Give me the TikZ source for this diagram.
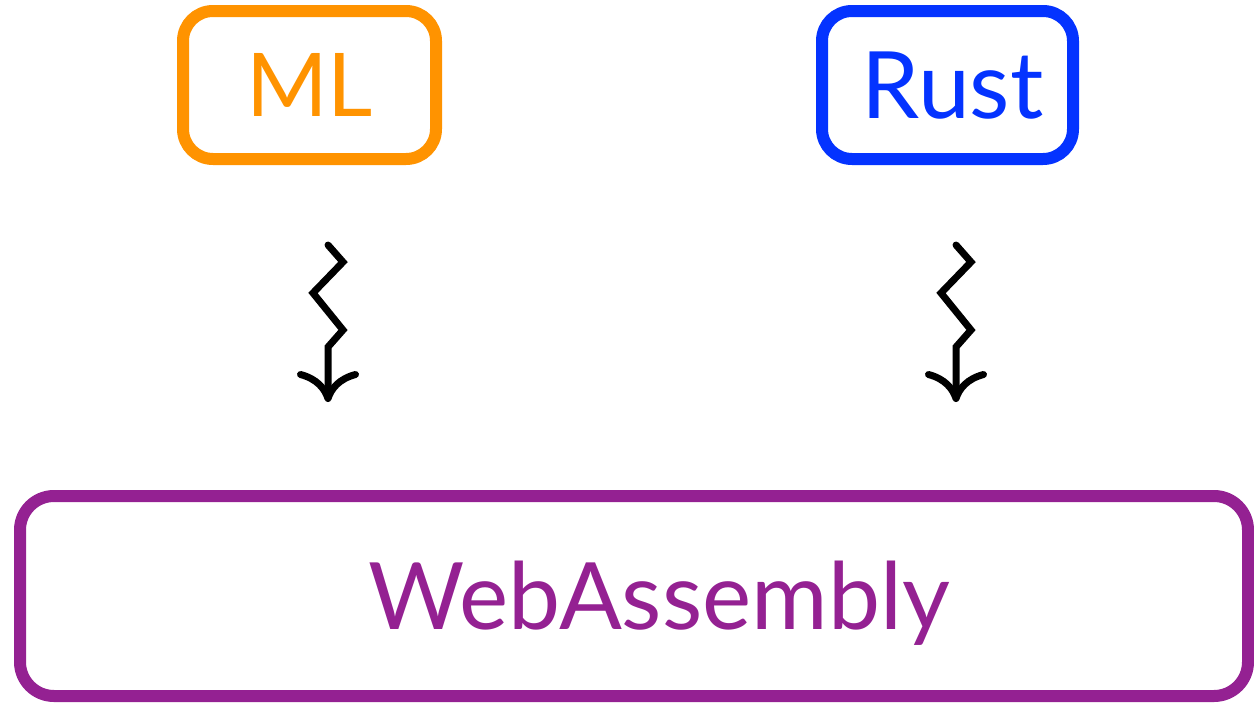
\documentclass[tikz,border=0pt]{standalone}
\usepackage{fontspec}
\setmainfont{Lato}
\usetikzlibrary{arrows.meta}
\definecolor{mlorange}{HTML}{FF9300}
\definecolor{rustblue}{HTML}{0433FF}
\definecolor{wasmpurple}{HTML}{942192}
\tikzset{
  langbox/.style={draw=#1, text=#1, line width=12pt, rounded corners=30pt,
    inner sep=0pt, text depth=0pt},
  labelsize/.style={font=\fontsize{#1}{#1}\selectfont, text height=0.716*#1 pt},
  compiles/.style={line width=7pt, line join=miter, line cap=round,
    -{Computer Modern Rightarrow[length=31pt,width=62pt]}}
}
\begin{document}
\begin{tikzpicture}[x=1pt,y=-1pt]
  \useasboundingbox (0,0) rectangle (1254,704);
  % source languages
  \node[langbox=mlorange, labelsize=88, minimum width=253pt, minimum height=148pt] (ml) at (309.5,85) {ML};
  \node[langbox=rustblue, labelsize=93, minimum width=251pt, minimum height=148pt,
        text width=251pt, align=center] (rust) at (947.5,85) {\hspace*{10pt}Rust};
  % target
  \node[langbox=wasmpurple, labelsize=93, rounded corners=34pt, minimum width=1228pt,
        minimum height=200pt, text width=1228pt, align=center] (wasm) at (634,596)
        {\hspace*{50pt}WebAssembly};
  % compilation arrows
  \coordinate (s1) at (328,245);
  \coordinate (e1) at (328,402);
  \coordinate (s2) at (956,245);
  \coordinate (e2) at (956,402);
  \draw[compiles] (s1) -- ++(15,17) -- ++(-30,31) -- ++(30,37) -- ++(-15,17) -- (e1);
  \draw[compiles] (s2) -- ++(15,17) -- ++(-30,31) -- ++(30,37) -- ++(-15,17) -- (e2);
\end{tikzpicture}
\end{document}
